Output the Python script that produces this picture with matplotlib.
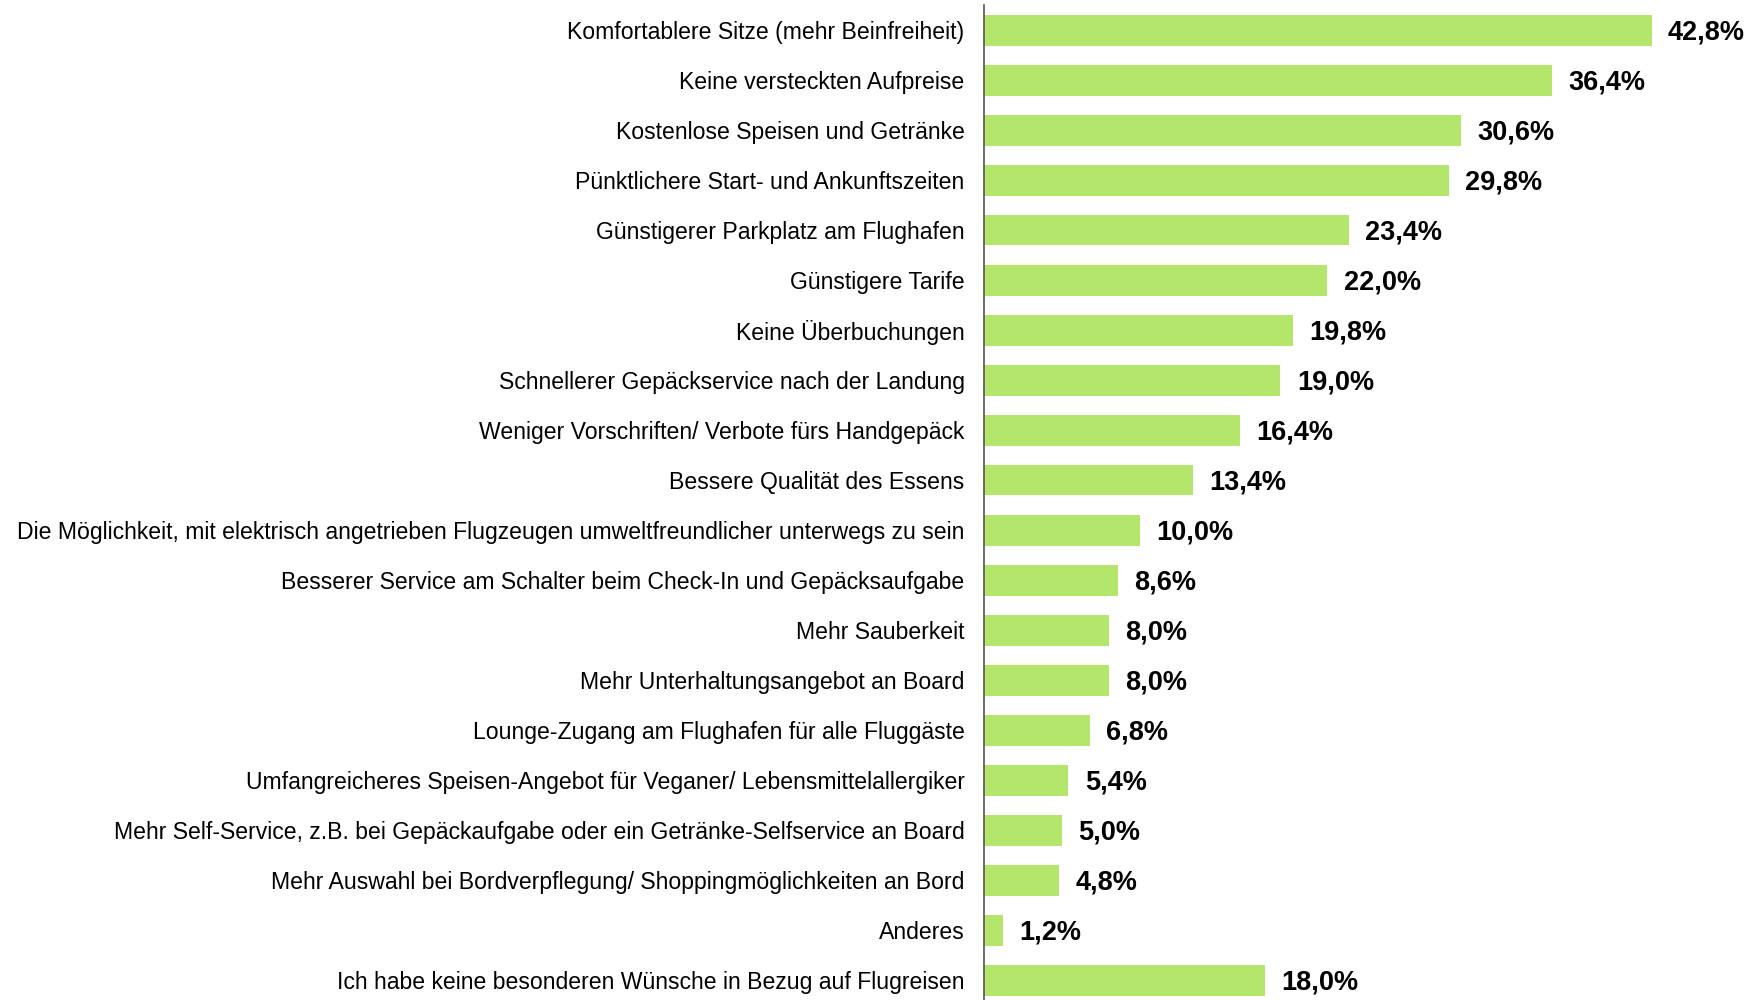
import matplotlib
matplotlib.use("Agg")
import matplotlib.pyplot as plt

categories = [
    "Komfortablere Sitze (mehr Beinfreiheit)",
    "Keine versteckten Aufpreise",
    "Kostenlose Speisen und Getränke",
    "Pünktlichere Start- und Ankunftszeiten",
    "Günstigerer Parkplatz am Flughafen",
    "Günstigere Tarife",
    "Keine Überbuchungen",
    "Schnellerer Gepäckservice nach der Landung",
    "Weniger Vorschriften/ Verbote fürs Handgepäck",
    "Bessere Qualität des Essens",
    "Die Möglichkeit, mit elektrisch angetrieben Flugzeugen umweltfreundlicher unterwegs zu sein",
    "Besserer Service am Schalter beim Check-In und Gepäcksaufgabe",
    "Mehr Sauberkeit",
    "Mehr Unterhaltungsangebot an Board",
    "Lounge-Zugang am Flughafen für alle Fluggäste",
    "Umfangreicheres Speisen-Angebot für Veganer/ Lebensmittelallergiker",
    "Mehr Self-Service, z.B. bei Gepäckaufgabe oder ein Getränke-Selfservice an Board",
    "Mehr Auswahl bei Bordverpflegung/ Shoppingmöglichkeiten an Bord",
    "Anderes",
    "Ich habe keine besonderen Wünsche in Bezug auf Flugreisen",
]
values = [42.8, 36.4, 30.6, 29.8, 23.4, 22.0, 19.8, 19.0, 16.4, 13.4,
          10.0, 8.6, 8.0, 8.0, 6.8, 5.4, 5.0, 4.8, 1.2, 18.0]

plt.rcParams['font.family'] = ['Liberation Sans', 'DejaVu Sans']

W, H = 1762, 1000
fig = plt.figure(figsize=(W / 100, H / 100), dpi=100)
ax = fig.add_axes([984 / W, 0.0, (W - 984) / W, 995 / H])

y = list(range(len(categories)))
ax.barh(y, values, height=0.62, color="#B3E66B", edgecolor="none")
ax.set_ylim(19.4, -0.5)
ax.set_xlim(0, 49.87)

for yi, v in zip(y, values):
    ax.text(v + 1.05, yi + 0.06, f"{v:.1f}".replace(".", ",") + "%", va="center", ha="left",
            fontsize=19.5, fontweight="bold", color="black")

ax.set_yticks(y)
ax.set_yticklabels(categories, fontsize=16.6, color="black")
ax.tick_params(axis="y", length=0, pad=14)
ax.set_xticks([])
for s in ["top", "right", "bottom"]:
    ax.spines[s].set_visible(False)
ax.spines["left"].set_color("#555555")
ax.spines["left"].set_linewidth(1.2)

fig.savefig("out.png", dpi=100, facecolor="white")
